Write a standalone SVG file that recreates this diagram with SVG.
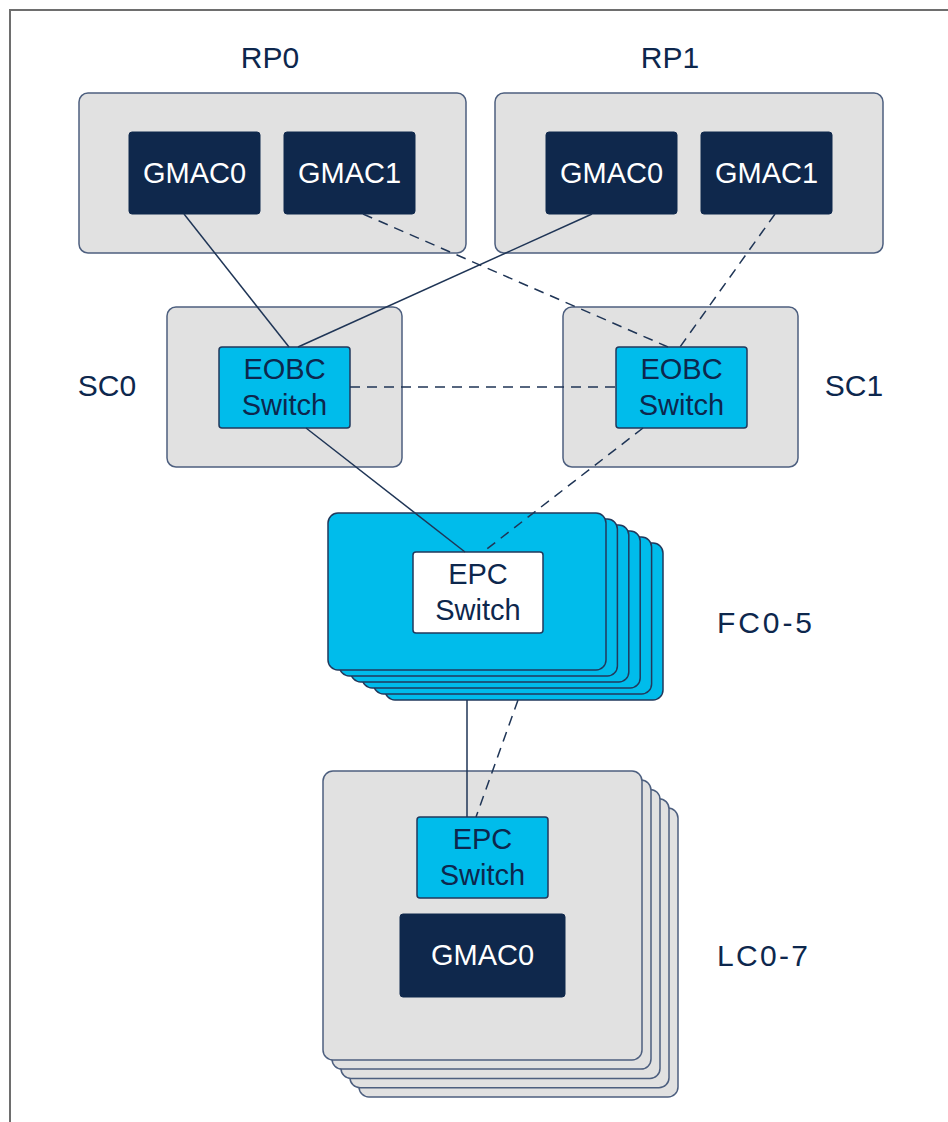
<svg xmlns="http://www.w3.org/2000/svg" width="948" height="1122" viewBox="0 0 948 1122">
<style>
.frame{fill:none;stroke:#6e6e6e;stroke-width:2}
.gray{fill:#e1e1e1;stroke:#4d5f7f;stroke-width:1.5}
.dark{fill:#0f284c;stroke:#0f284c;stroke-width:1}
.cyan{fill:#00bceb;stroke:#22395c;stroke-width:1.5}
.white{fill:#ffffff;stroke:#22395c;stroke-width:1.5}
.lbl{font-family:"Liberation Sans",Arial,sans-serif;font-size:30px;fill:#0d274d;text-anchor:middle}
.in{font-family:"Liberation Sans",Arial,sans-serif;font-size:29px;text-anchor:middle}
.wt{fill:#ffffff}
.nv{fill:#0d274d}
.solid{stroke:#1f3556;stroke-width:1.5;fill:none}
.dash{stroke:#1f3556;stroke-width:1.5;fill:none;stroke-dasharray:10 7}
</style>
<rect class="frame" x="10" y="10" width="960" height="1130"/>

<g id="RP0">
<text class="lbl" x="270" y="68">RP0</text>
<rect class="gray" x="79" y="93" width="387" height="160" rx="9"/>
<rect class="dark" x="129" y="132" width="131" height="82" rx="3"/>
<text class="in wt" x="194.5" y="183">GMAC0</text>
<rect class="dark" x="284" y="132" width="131" height="82" rx="3"/>
<text class="in wt" x="349.5" y="183">GMAC1</text>
</g>

<g id="RP1">
<text class="lbl" x="670" y="68">RP1</text>
<rect class="gray" x="495" y="93" width="388" height="160" rx="9"/>
<rect class="dark" x="546" y="132" width="131" height="82" rx="3"/>
<text class="in wt" x="611.5" y="183">GMAC0</text>
<rect class="dark" x="701" y="132" width="131" height="82" rx="3"/>
<text class="in wt" x="766.5" y="183">GMAC1</text>
</g>

<g id="SC0">
<text class="lbl" x="107" y="396">SC0</text>
<rect class="gray" x="167" y="307" width="235" height="160" rx="9"/>
<rect class="cyan" x="219" y="347" width="131" height="81" rx="3"/>
<text class="in nv" x="284.5" y="379">EOBC</text>
<text class="in nv" x="284.5" y="415">Switch</text>
</g>

<g id="SC1">
<text class="lbl" x="854" y="396">SC1</text>
<rect class="gray" x="563" y="307" width="235" height="160" rx="9"/>
<rect class="cyan" x="616" y="347" width="131" height="81" rx="3"/>
<text class="in nv" x="681.5" y="379">EOBC</text>
<text class="in nv" x="681.5" y="415">Switch</text>
</g>

<g id="FC">
<rect class="cyan" x="385" y="543" width="278" height="157" rx="10"/>
<rect class="cyan" x="373.6" y="537" width="278" height="157" rx="10"/>
<rect class="cyan" x="362.2" y="531" width="278" height="157" rx="10"/>
<rect class="cyan" x="350.8" y="525" width="278" height="157" rx="10"/>
<rect class="cyan" x="339.4" y="519" width="278" height="157" rx="10"/>
<rect class="cyan" x="328" y="513" width="278" height="157" rx="10"/>
<rect class="white" x="413" y="552" width="130" height="81" rx="3"/>
<text class="in nv" x="478" y="584">EPC</text>
<text class="in nv" x="478" y="620">Switch</text>
<text class="lbl" x="764.5" y="633" textLength="95">FC0-5</text>
</g>

<g id="LC">
<rect class="gray" x="359" y="808" width="319" height="289" rx="10"/>
<rect class="gray" x="350" y="798.7" width="319" height="289" rx="10"/>
<rect class="gray" x="341" y="789.4" width="319" height="289" rx="10"/>
<rect class="gray" x="332" y="780.1" width="319" height="289" rx="10"/>
<rect class="gray" x="323" y="771" width="319" height="289" rx="10"/>
<rect class="cyan" x="417" y="817" width="131" height="81" rx="3"/>
<text class="in nv" x="482.5" y="849">EPC</text>
<text class="in nv" x="482.5" y="885">Switch</text>
<rect class="dark" x="400" y="914" width="165" height="83" rx="3"/>
<text class="in wt" x="482.5" y="965">GMAC0</text>
<text class="lbl" x="762.5" y="966" textLength="91">LC0-7</text>
</g>

<g id="connectors">
<line class="solid" x1="184" y1="214" x2="289" y2="347"/>
<line class="solid" x1="592" y1="214" x2="298" y2="347"/>
<line class="dash" x1="363" y1="214" x2="668" y2="347"/>
<line class="dash" x1="775" y1="214" x2="680" y2="347"/>
<line class="dash" x1="350" y1="387" x2="616" y2="387"/>
<line class="solid" x1="306" y1="428" x2="465" y2="552"/>
<line class="dash" x1="643" y1="428" x2="483" y2="552"/>
<line class="solid" x1="467" y1="700" x2="467" y2="817"/>
<line class="dash" x1="518" y1="700" x2="476" y2="817"/>
</g>
</svg>
